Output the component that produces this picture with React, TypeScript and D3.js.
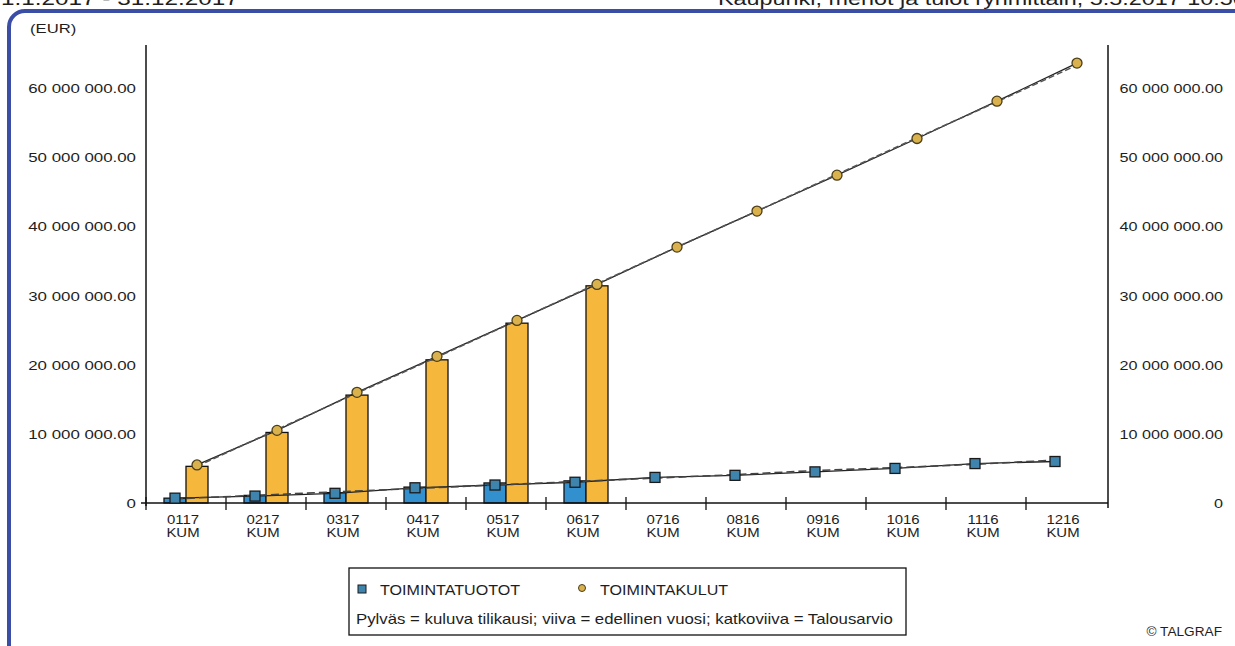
import React from "react";
import * as d3 from "d3";

const categories = ["0117", "0217", "0317", "0417", "0517", "0617", "0716", "0816", "0916", "1016", "1116", "1216"];
const subLabel = "KUM";
// values in millions EUR
const tuototBars = [0.7, 1.1, 1.5, 2.3, 2.9, 3.2];
const kulutBars = [5.3, 10.2, 15.6, 20.7, 26.0, 31.4];
const tuototPrev = [0.7, 1.0, 1.4, 2.2, 2.6, 3.0, 3.7, 4.0, 4.5, 5.0, 5.7, 6.0];
const kulutPrev = [5.5, 10.5, 16.0, 21.2, 26.4, 31.6, 37.0, 42.2, 47.4, 52.7, 58.1, 63.6];
const tuototBudget = [0.6, 1.1, 1.6, 2.1, 2.6, 3.1, 3.6, 4.1, 4.7, 5.1, 5.6, 6.2];
const kulutBudget = [5.3, 10.6, 15.9, 21.1, 26.4, 31.7, 37.0, 42.2, 47.5, 52.8, 58.0, 63.3];
const yTicks = [0, 10, 20, 30, 40, 50, 60];

const FONT = "'Liberation Sans', Arial, sans-serif";

function fmt(v: number) {
  if (v === 0) return "0";
  return d3.format(",.2f")(v * 1e6).replace(/,/g, " ");
}

function T(props: { x: number; y: number; size: number; sx?: number; anchor?: string; children: React.ReactNode }) {
  const sx = props.sx ?? 1.1;
  return (
    <text
      transform={`translate(${props.x},${props.y}) scale(${sx},1)`}
      fontSize={props.size}
      textAnchor={props.anchor ?? "start"}
      fill="#1e1e1e"
    >
      {props.children}
    </text>
  );
}

export default function App() {
  const W = 1235, H = 646;
  const x = d3.scaleBand<string>().domain(categories).range([146, 1106]).paddingInner(0).paddingOuter(0);
  const y = d3.scaleLinear().domain([0, 60]).range([503, 88]);
  const yTop = 45;
  const bw = 22;
  const cx = (c: string) => (x(c) as number) + x.bandwidth() / 2;

  const lineT = d3.line<number>().x((_, i) => cx(categories[i]) - 11).y((d) => y(d));
  const lineK = d3.line<number>().x((_, i) => cx(categories[i]) + 11).y((d) => y(d));

  return (
    <svg width={W} height={H} style={{ position: "absolute", left: 0, top: 0, background: "#fff" }} fontFamily={FONT}>
      <T x={1} y={5} size={18} sx={1.35}>1.1.2017 - 31.12.2017</T>
      <T x={718} y={5} size={18} sx={1.3}>Kaupunki, menot ja tulot ryhmittäin, 5.5.2017 10:50:16</T>
      <rect x={9} y={11} width={1400} height={800} rx={16} ry={16} fill="#fff" stroke="#3b4ea6" strokeWidth={4} />

      <T x={30} y={33} size={13} sx={1.28}>(EUR)</T>

      {/* y tick labels */}
      {yTicks.map((t) => (
        <g key={t}>
          <T x={136} y={y(t) + 5} size={13.5} sx={1.25} anchor="end">{fmt(t)}</T>
          <T x={1223} y={y(t) + 5} size={13.5} sx={1.2} anchor="end">{fmt(t)}</T>
        </g>
      ))}

      {/* bars */}
      {tuototBars.map((v, i) => (
        <rect key={"t" + i} x={cx(categories[i]) - bw} y={y(v)} width={bw} height={y(0) - y(v)} fill="#3290cf" stroke="#111" strokeWidth={1.3} />
      ))}
      {kulutBars.map((v, i) => (
        <rect key={"k" + i} x={cx(categories[i])} y={y(v)} width={bw} height={y(0) - y(v)} fill="#f5b73c" stroke="#111" strokeWidth={1.3} />
      ))}

      {/* axes */}
      <line x1={146} y1={yTop} x2={146} y2={506} stroke="#111" strokeWidth={1.5} />
      <line x1={1108} y1={yTop} x2={1108} y2={508} stroke="#111" strokeWidth={1.5} />
      <line x1={141} y1={503} x2={1108} y2={503} stroke="#111" strokeWidth={1.5} />
      {categories.map((c) => (
        <line key={"tk" + c} x1={x(c) as number} x2={x(c) as number} y1={497} y2={510} stroke="#111" strokeWidth={1.3} />
      ))}
      {categories.map((c) => (
        <g key={"xl" + c}>
          <T x={cx(c) - 3} y={524} size={13} sx={1.15} anchor="middle">{c}</T>
          <T x={cx(c) - 3} y={537} size={13} sx={1.15} anchor="middle">{subLabel}</T>
        </g>
      ))}

      {/* lines */}
      <path d={lineK(kulutPrev) as string} fill="none" stroke="#222" strokeWidth={1.3} />
      <path d={lineK(kulutBudget) as string} fill="none" stroke="#555" strokeWidth={1.6} strokeDasharray="6,3" />
      <path d={lineT(tuototPrev) as string} fill="none" stroke="#222" strokeWidth={1.3} />
      <path d={lineT(tuototBudget) as string} fill="none" stroke="#444" strokeWidth={1.6} strokeDasharray="8,4" />

      {/* markers */}
      {tuototPrev.map((v, i) => (
        <rect key={"sq" + i} x={cx(categories[i]) - 11 - 5} y={y(v) - 5} width={10} height={10} fill="#3f84ad" stroke="#1a1a1a" strokeWidth={1.3} />
      ))}
      {kulutPrev.map((v, i) => (
        <circle key={"ci" + i} cx={cx(categories[i]) + 11} cy={y(v)} r={5} fill="#d9b24e" stroke="#4a3d1a" strokeWidth={1.3} />
      ))}

      {/* legend */}
      <rect x={349} y={568} width={557} height={67} fill="#fff" stroke="#111" strokeWidth={1.3} />
      <rect x={358} y={585} width={8} height={8} fill="#3f84ad" stroke="#1a1a1a" strokeWidth={1} />
      <T x={380} y={595} size={14} sx={1.15}>TOIMINTATUOTOT</T>
      <circle cx={582} cy={588} r={3.5} fill="#d9b24e" stroke="#4a3d1a" strokeWidth={1} />
      <T x={600} y={595} size={14} sx={1.15}>TOIMINTAKULUT</T>
      <T x={356} y={624} size={14} sx={1.2}>Pylväs = kuluva tilikausi; viiva = edellinen vuosi; katkoviiva = Talousarvio</T>

      <T x={1222} y={636} size={13} sx={1.05} anchor="end">© TALGRAF</T>
    </svg>
  );
}
